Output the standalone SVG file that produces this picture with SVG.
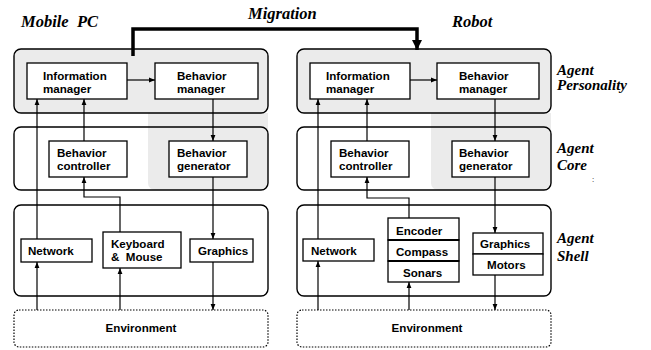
<svg xmlns="http://www.w3.org/2000/svg" width="651" height="350" viewBox="0 0 651 350">
  <style>
    .panel { fill: none; stroke: #000; stroke-width: 1.4; }
    .gray { fill: #ebebeb; stroke: none; }
    .box { fill: #fff; stroke: #000; stroke-width: 1.3; }
    .env { fill: #fff; stroke: #000; stroke-width: 1.2; stroke-dasharray: 1.5 1.5; }
    .lbl { font-family: "Liberation Sans", Arial, sans-serif; font-weight: bold; font-size: 11.6px; fill: #000; }
    .ttl { font-family: "Liberation Serif", "Times New Roman", serif; font-weight: bold; font-style: italic; font-size: 15px; fill: #000; }
    .big { font-size: 16.5px; }
    .wire { fill: none; stroke: #000; stroke-width: 1.2; }
    .mig { fill: none; stroke: #000; stroke-width: 3.5; }
  </style>
  <defs>
    <marker id="ah" viewBox="0 0 10 10" refX="10" refY="5" markerWidth="6" markerHeight="6" markerUnits="userSpaceOnUse" orient="auto">
      <path d="M0,1 L10,5 L0,9 z" fill="#000"/>
    </marker>
    <marker id="ahBig" viewBox="0 0 10 10" refX="10" refY="5" markerWidth="3" markerHeight="3" orient="auto">
      <path d="M0,0 L10,5 L0,10 z" fill="#000"/>
    </marker>
  </defs>

  <!-- titles -->
  <text class="ttl big" x="21" y="27" xml:space="preserve">Mobile  PC</text>
  <text class="ttl big" x="248" y="19">Migration</text>
  <text class="ttl big" x="452" y="27">Robot</text>
  <text class="ttl" x="557" y="75">Agent</text>
  <text class="ttl" x="557" y="90">Personality</text>
  <text class="ttl" x="557" y="153">Agent</text>
  <text class="ttl" x="557" y="170">Core</text>
  <text class="ttl" x="557" y="243">Agent</text>
  <text class="ttl" x="557" y="261">Shell</text>
  <text class="lbl" x="592" y="182" style="font-size:8px;font-weight:normal">:</text>

  <!-- layer panels: Mobile PC -->
  <g id="pc-layers">
    <rect x="14" y="49" width="254" height="64" rx="7" fill="#ebebeb"/>
    <path class="gray" d="M148,113 H268 V183 a7,7 0 0 1 -7,7 H155 a7,7 0 0 1 -7,-7 z"/>
    <rect class="panel" x="14" y="49" width="254" height="64" rx="7"/>
    <rect class="panel" x="14" y="127" width="254" height="63" rx="7"/>
    <rect class="panel" x="14" y="205" width="254" height="91" rx="7"/>
  </g>

  <!-- layer panels: Robot -->
  <g id="robot-layers">
    <rect x="297" y="49" width="254" height="64" rx="7" fill="#ebebeb"/>
    <path class="gray" d="M431,113 H551 V183 a7,7 0 0 1 -7,7 H438 a7,7 0 0 1 -7,-7 z"/>
    <rect class="panel" x="297" y="49" width="254" height="64" rx="7"/>
    <rect class="panel" x="297" y="127" width="254" height="63" rx="7"/>
    <rect class="panel" x="297" y="205" width="254" height="91" rx="7"/>
  </g>

  <!-- connectors -->
  <g id="connectors">
    <path class="mig" d="M133,56 V29 H417 V50" marker-end="url(#ahBig)"/>
    <!-- Mobile PC -->
    <path class="wire" d="M127,80 H155" marker-end="url(#ah)"/>
    <path class="wire" d="M213,99 V141" marker-end="url(#ah)"/>
    <path class="wire" d="M213,177 V239" marker-end="url(#ah)"/>
    <path class="wire" d="M213,262 V310" marker-end="url(#ah)"/>
    <path class="wire" d="M84,141 V99" marker-end="url(#ah)"/>
    <path class="wire" d="M37,239 V99" marker-end="url(#ah)"/>
    <path class="wire" d="M37,310 V262" marker-end="url(#ah)"/>
    <path class="wire" d="M120,232 V197 H84 V177" marker-end="url(#ah)"/>
    <path class="wire" d="M120,310 V268" marker-end="url(#ah)"/>
    <!-- Robot -->
    <path class="wire" d="M410,80 H437" marker-end="url(#ah)"/>
    <path class="wire" d="M495,99 V141" marker-end="url(#ah)"/>
    <path class="wire" d="M495,177 V233" marker-end="url(#ah)"/>
    <path class="wire" d="M495,275 V310" marker-end="url(#ah)"/>
    <path class="wire" d="M367,141 V99" marker-end="url(#ah)"/>
    <path class="wire" d="M318,239 V99" marker-end="url(#ah)"/>
    <path class="wire" d="M318,310 V261" marker-end="url(#ah)"/>
    <path class="wire" d="M409,218 V198 H367 V177" marker-end="url(#ah)"/>
    <path class="wire" d="M409,310 V282" marker-end="url(#ah)"/>
  </g>

  <!-- Mobile PC nodes -->
  <g id="pc-info-manager">
    <rect class="box" x="27" y="63" width="100" height="36"/>
    <text class="lbl" x="43" y="79.5">Information</text>
    <text class="lbl" x="43" y="92.5">manager</text>
  </g>
  <g id="pc-behavior-manager">
    <rect class="box" x="155" y="63" width="103" height="36"/>
    <text class="lbl" x="177" y="79.5">Behavior</text>
    <text class="lbl" x="177" y="92.5">manager</text>
  </g>
  <g id="pc-behavior-controller">
    <rect class="box" x="49" y="141" width="78" height="36"/>
    <text class="lbl" x="57" y="156.5">Behavior</text>
    <text class="lbl" x="57" y="169.5">controller</text>
  </g>
  <g id="pc-behavior-generator">
    <rect class="box" x="169" y="141" width="78" height="36"/>
    <text class="lbl" x="177" y="156.5">Behavior</text>
    <text class="lbl" x="177" y="169.5">generator</text>
  </g>
  <g id="pc-network">
    <rect class="box" x="21" y="239" width="71" height="23"/>
    <text class="lbl" x="28" y="255">Network</text>
  </g>
  <g id="pc-keyboard-mouse">
    <rect class="box" x="103" y="232" width="78" height="36"/>
    <text class="lbl" x="111" y="247.5">Keyboard</text>
    <text class="lbl" x="111" y="260.5" xml:space="preserve">&amp;  Mouse</text>
  </g>
  <g id="pc-graphics">
    <rect class="box" x="190" y="239" width="63" height="23"/>
    <text class="lbl" x="198" y="255">Graphics</text>
  </g>
  <g id="pc-environment">
    <rect class="env" x="14" y="310" width="254" height="37" rx="5"/>
    <text class="lbl" x="141" y="332" text-anchor="middle">Environment</text>
  </g>

  <!-- Robot nodes -->
  <g id="robot-info-manager">
    <rect class="box" x="310" y="63" width="100" height="36"/>
    <text class="lbl" x="326" y="79.5">Information</text>
    <text class="lbl" x="326" y="92.5">manager</text>
  </g>
  <g id="robot-behavior-manager">
    <rect class="box" x="437" y="63" width="102" height="36"/>
    <text class="lbl" x="459" y="79.5">Behavior</text>
    <text class="lbl" x="459" y="92.5">manager</text>
  </g>
  <g id="robot-behavior-controller">
    <rect class="box" x="331" y="141" width="78" height="36"/>
    <text class="lbl" x="339" y="156.5">Behavior</text>
    <text class="lbl" x="339" y="169.5">controller</text>
  </g>
  <g id="robot-behavior-generator">
    <rect class="box" x="452" y="141" width="77" height="36"/>
    <text class="lbl" x="459" y="156.5">Behavior</text>
    <text class="lbl" x="459" y="169.5">generator</text>
  </g>
  <g id="robot-network">
    <rect class="box" x="303" y="239" width="71" height="22"/>
    <text class="lbl" x="311" y="255">Network</text>
  </g>
  <g id="robot-sensors">
    <rect class="box" x="388" y="218" width="71" height="22"/>
    <rect class="box" x="388" y="240" width="71" height="21"/>
    <rect class="box" x="388" y="261" width="71" height="21"/>
    <line x1="388" y1="240" x2="459" y2="240" stroke="#000" stroke-width="2"/>
    <line x1="388" y1="261" x2="459" y2="261" stroke="#000" stroke-width="2"/>
    <text class="lbl" x="396" y="235">Encoder</text>
    <text class="lbl" x="396" y="256">Compass</text>
    <text class="lbl" x="403" y="277">Sonars</text>
  </g>
  <g id="robot-graphics-motors">
    <rect class="box" x="473" y="233" width="70" height="21"/>
    <rect class="box" x="473" y="254" width="70" height="21"/>
    <text class="lbl" x="480" y="248">Graphics</text>
    <text class="lbl" x="487" y="269">Motors</text>
  </g>
  <g id="robot-environment">
    <rect class="env" x="297" y="310" width="254" height="37" rx="5"/>
    <text class="lbl" x="427" y="332" text-anchor="middle">Environment</text>
  </g>
</svg>
